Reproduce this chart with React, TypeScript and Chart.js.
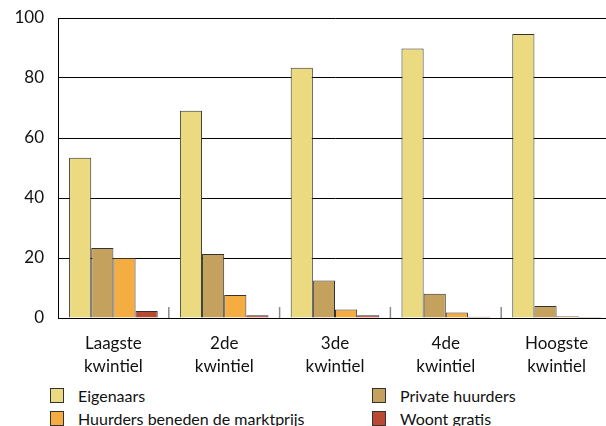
import React, { useEffect, useRef } from "react";
import { Chart, registerables } from "chart.js";

Chart.register(...registerables);

const categories: string[][] = [
  ["Laagste", "kwintiel"],
  ["2de", "kwintiel"],
  ["3de", "kwintiel"],
  ["4de", "kwintiel"],
  ["Hoogste", "kwintiel"],
];
const seriesNames = ["Eigenaars", "Private huurders", "Huurders beneden de marktprijs", "Woont gratis"];
const eigenaars = [53.4, 69.1, 83.4, 89.8, 94.7];
const privateHuurders = [23.3, 21.3, 12.5, 8.1, 4.0];
const huurdersBeneden = [20.0, 7.7, 2.8, 1.8, 0.6];
const woontGratis = [2.3, 0.9, 0.9, 0.4, 0.3];
const colors = ["#ECDA80", "#C4A25E", "#F5AD42", "#B84A32"];

const FONT = "Lato, 'Open Sans', sans-serif";

const boundaryTicks = {
  id: "boundaryTicks",
  afterDatasetsDraw(chart: any) {
    const x = chart.scales.x;
    const bottom = chart.chartArea.bottom;
    const ctx = chart.ctx;
    ctx.save();
    ctx.strokeStyle = "#8a8a8a";
    ctx.lineWidth = 1.5;
    for (let i = 0; i < categories.length - 1; i++) {
      const px = (x.getPixelForValue(i) + x.getPixelForValue(i + 1)) / 2;
      ctx.beginPath();
      ctx.moveTo(px, bottom - 11);
      ctx.lineTo(px, bottom);
      ctx.stroke();
    }
    ctx.restore();
  },
};

export default function App() {
  const ref = useRef<HTMLCanvasElement | null>(null);
  useEffect(() => {
    if (!ref.current) return;
    const data = [eigenaars, privateHuurders, huurdersBeneden, woontGratis];
    const chart = new Chart(ref.current, {
      type: "bar",
      data: {
        labels: categories,
        datasets: data.map((d, i) => ({
          label: seriesNames[i],
          data: d,
          backgroundColor: colors[i],
          borderColor: "#333333",
          borderWidth: 1,
          categoryPercentage: 0.8,
          barPercentage: 1.0,
        })),
      },
      options: {
        animation: false,
        responsive: false,
        maintainAspectRatio: false,
        layout: { padding: { top: 18, right: 0, left: 0, bottom: 0 } },
        plugins: { legend: { display: false }, tooltip: { enabled: false } },
        scales: {
          x: {
            grid: { display: false },
            border: { display: true, color: "#000", width: 1 },
            ticks: { color: "#111", font: { family: FONT, size: 17, lineHeight: 1.35 }, maxRotation: 0, padding: 6 },
            afterFit: (s: any) => { s.height = 62; s.paddingLeft = 0; s.paddingRight = 0; },
          },
          y: {
            min: 0,
            max: 100,
            ticks: { stepSize: 20, color: "#111", font: { family: FONT, size: 17 }, padding: 14 },
            grid: { color: "#000", lineWidth: 1, drawTicks: false },
            border: { display: true, color: "#000", width: 1 },
            afterFit: (s: any) => { s.width = 58; s.paddingTop = 0; s.paddingBottom = 0; },
          },
        },
      },
      plugins: [boundaryTicks],
    });
    return () => chart.destroy();
  }, []);

  const legendItem = (i: number, left: number, top: number) => (
    <div key={i} style={{ position: "absolute", left, top, display: "flex", alignItems: "center", height: 20 }}>
      <div style={{ width: 12, height: 13, background: colors[i], border: "1px solid #333", boxSizing: "content-box" }} />
      <span style={{ marginLeft: 14, fontFamily: FONT, fontSize: 16, color: "#111", whiteSpace: "nowrap" }}>{seriesNames[i]}</span>
    </div>
  );

  return (
    <div style={{ position: "fixed", left: 0, top: 0, width: 606, height: 426, overflow: "hidden", background: "#fff" }}>
      <canvas ref={ref} width={612} height={380} style={{ position: "absolute", left: 0, top: 0 }} />
      {legendItem(0, 50, 385)}
      {legendItem(1, 372, 385)}
      {legendItem(2, 50, 408)}
      {legendItem(3, 372, 408)}
    </div>
  );
}
